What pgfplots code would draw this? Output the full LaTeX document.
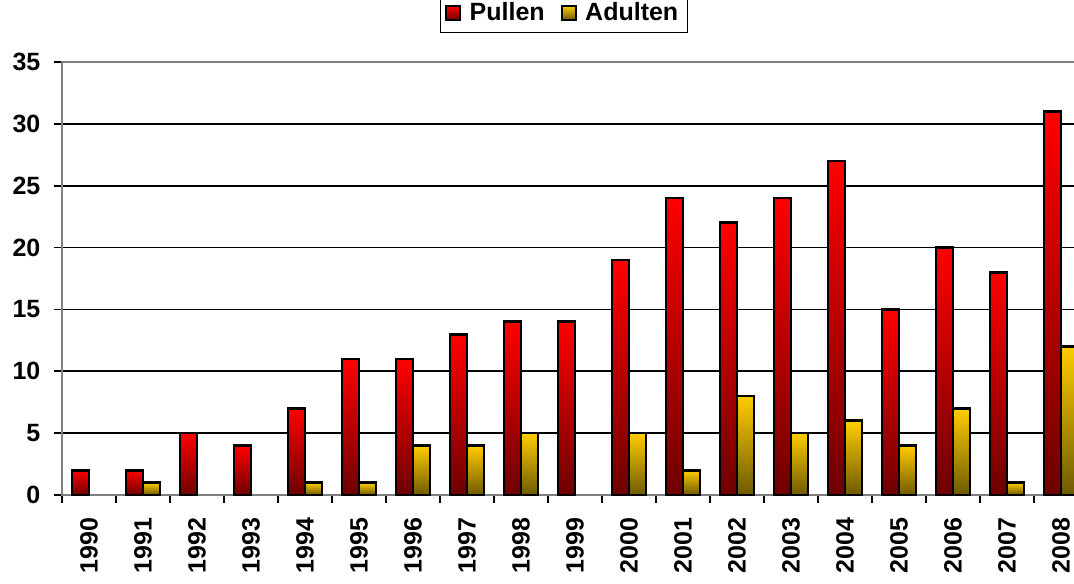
\documentclass[border=0pt]{standalone}
\usepackage{pgfplots}
\pgfplotsset{compat=1.18}
\usepackage{fontspec}
\setmainfont{Liberation Sans}
\definecolor{redtop}{RGB}{255,0,0}
\definecolor{redbot}{RGB}{110,0,0}
\definecolor{yeltop}{RGB}{255,204,0}
\definecolor{yelbot}{RGB}{110,90,0}
\pgfplotsset{
  pul/.style={ybar, bar width=0.315, bar shift=-0.1575, draw=black, line width=1.35pt,
    top color=redtop, bottom color=redbot, forget plot},
  adu/.style={ybar, bar width=0.315, bar shift=0.1575, draw=black, line width=1.35pt,
    top color=yeltop, bottom color=yelbot, forget plot},
}
\begin{document}
\begin{tikzpicture}
\useasboundingbox (0,0) rectangle (537pt,291.5pt);
\clip (0,0) rectangle (537pt,291.5pt);
\begin{axis}[
  at={(31pt,44pt)}, anchor=south west,
  scale only axis, width=513pt, height=216.5pt,
  xmin=1989.5, xmax=2008.5, ymin=0, ymax=35,
  xtick={1990,1991,...,2008},
  minor xtick={1989.5,1990.5,...,2008.5},
  ytick={0,5,...,35},
  ymajorgrids, major grid style={black, line width=0.9pt},
  axis line style={draw=gray, line width=1pt},
  tick align=outside, xtick pos=bottom, ytick pos=left,
  major x tick style={draw=none},
  minor x tick style={black, line width=0.9pt},
  major y tick style={black, line width=0.9pt},
  major tick length=4pt, minor tick length=4pt,
  /pgf/number format/1000 sep={},
  /pgf/number format/assume math mode=true,
  tick label style={font=\fontsize{12.5}{15}\selectfont\bfseries},
  xticklabel style={rotate=90, anchor=east, xshift=-4pt},
  yticklabel style={xshift=-3.3pt},
  legend style={at={(0.489,1.067)}, anchor=south, draw=black, line width=0.6pt,
    font=\fontsize{12.5}{14}\selectfont\bfseries, legend columns=-1,
    /tikz/every even column/.append style={column sep=6pt}, inner sep=2.5pt},
]
% Pullen
\addplot[pul] coordinates {(1990,2)};
\addplot[pul] coordinates {(1991,2)};
\addplot[pul] coordinates {(1992,5)};
\addplot[pul] coordinates {(1993,4)};
\addplot[pul] coordinates {(1994,7)};
\addplot[pul] coordinates {(1995,11)};
\addplot[pul] coordinates {(1996,11)};
\addplot[pul] coordinates {(1997,13)};
\addplot[pul] coordinates {(1998,14)};
\addplot[pul] coordinates {(1999,14)};
\addplot[pul] coordinates {(2000,19)};
\addplot[pul] coordinates {(2001,24)};
\addplot[pul] coordinates {(2002,22)};
\addplot[pul] coordinates {(2003,24)};
\addplot[pul] coordinates {(2004,27)};
\addplot[pul] coordinates {(2005,15)};
\addplot[pul] coordinates {(2006,20)};
\addplot[pul] coordinates {(2007,18)};
\addplot[pul] coordinates {(2008,31)};
% Adulten
\addplot[adu] coordinates {(1991,1)};
\addplot[adu] coordinates {(1994,1)};
\addplot[adu] coordinates {(1995,1)};
\addplot[adu] coordinates {(1996,4)};
\addplot[adu] coordinates {(1997,4)};
\addplot[adu] coordinates {(1998,5)};
\addplot[adu] coordinates {(2000,5)};
\addplot[adu] coordinates {(2001,2)};
\addplot[adu] coordinates {(2002,8)};
\addplot[adu] coordinates {(2003,5)};
\addplot[adu] coordinates {(2004,6)};
\addplot[adu] coordinates {(2005,4)};
\addplot[adu] coordinates {(2006,7)};
\addplot[adu] coordinates {(2007,1)};
\addplot[adu] coordinates {(2008,12)};
\addlegendimage{legend image code/.code={\draw[draw=black, line width=0.9pt, top color=redtop, bottom color=redbot] (0pt,-3.5pt) rectangle (7pt,3.5pt); \path (9.5pt,0pt);}}
\addlegendentry{Pullen}
\addlegendimage{legend image code/.code={\draw[draw=black, line width=0.9pt, top color=yeltop, bottom color=yelbot] (0pt,-3.5pt) rectangle (7pt,3.5pt); \path (9.5pt,0pt);}}
\addlegendentry{Adulten}
\end{axis}
\end{tikzpicture}
\end{document}
